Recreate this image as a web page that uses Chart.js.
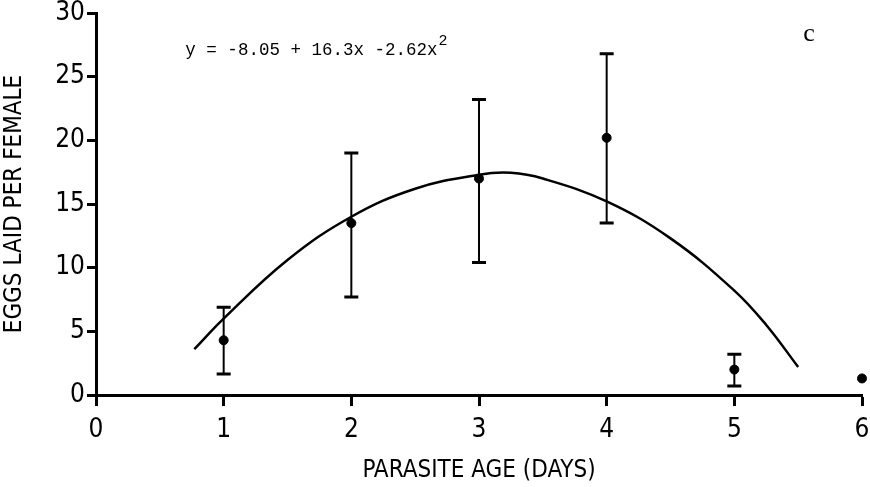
<!DOCTYPE html>
<html><head><meta charset="utf-8">
<script src="https://cdn.jsdelivr.net/npm/chart.js@4"></script>
<style>html,body{margin:0;padding:0;background:#fff}#wrap{width:870px;height:487px;position:relative}</style>
</head><body><div id="wrap"><canvas id="c"></canvas></div>
<script>
// ---- data ----
const parasiteAge = [1, 2, 3, 4, 5, 6];
const eggsMean    = [4.3, 13.5, 17.0, 20.2, 2.0, 1.3];
const errHigh     = [6.9, 19.0, 23.2, 26.8, 3.2, null];
const errLow      = [1.65, 7.7, 10.4, 13.5, 0.7, null];
const curveX      = [0.77, 1, 1.5, 2, 2.5, 3, 3.25, 3.5, 4, 4.5, 5, 5.25, 5.5];
const curveY      = [3.6, 6.0, 10.6, 14.0, 16.2, 17.3, 17.45, 17.0, 15.2, 12.3, 8.2, 5.5, 2.2];
const xTicks      = [0, 1, 2, 3, 4, 5, 6];
const yTicks      = [0, 5, 10, 15, 20, 25, 30];
const equationText = 'y = -8.05 + 16.3x -2.62x';
const equationExp  = '2';
const panelLabel   = 'c';
const xTitle = 'PARASITE AGE (DAYS)';
const yTitle = 'EGGS LAID PER FEMALE';

const FONT = "'Liberation Sans Narrow','DejaVu Sans Condensed','Liberation Sans',sans-serif";

const errorBars = {
  id: 'errorBars',
  afterDatasetsDraw(chart) {
    const ctx = chart.ctx, xs = chart.scales.x, ys = chart.scales.y;
    ctx.save();
    ctx.strokeStyle = '#000';
    parasiteAge.forEach((a, i) => {
      if (errHigh[i] == null || errLow[i] == null) return;
      const px = xs.getPixelForValue(a);
      const top = ys.getPixelForValue(errHigh[i]);
      const bot = ys.getPixelForValue(errLow[i]);
      ctx.lineWidth = 2;
      ctx.beginPath(); ctx.moveTo(px, top); ctx.lineTo(px, bot); ctx.stroke();
      ctx.lineWidth = 3;
      ctx.beginPath();
      ctx.moveTo(px - 7, top); ctx.lineTo(px + 7, top);
      ctx.moveTo(px - 7, bot); ctx.lineTo(px + 7, bot);
      ctx.stroke();
    });
    ctx.restore();
  }
};

const annotations = {
  id: 'annotations',
  afterDraw(chart) {
    const ctx = chart.ctx, xs = chart.scales.x, ys = chart.scales.y;
    ctx.save();
    ctx.fillStyle = '#000';
    ctx.textBaseline = 'alphabetic';
    ctx.textAlign = 'left';
    ctx.font = "17.5px 'Liberation Mono','DejaVu Sans Mono',monospace";
    const ex = xs.getPixelForValue(0.70), ey = ys.getPixelForValue(26.7);
    ctx.fillText(equationText, ex, ey);
    const w = ctx.measureText(equationText).width;
    ctx.font = "15px 'Liberation Mono','DejaVu Sans Mono',monospace";
    ctx.fillText(equationExp, ex + w + 1, ey - 10);
    ctx.font = "26px 'Liberation Serif','DejaVu Serif',serif";
    ctx.fillText(panelLabel, xs.getPixelForValue(5.54), ys.getPixelForValue(27.8));
    ctx.restore();
  }
};

new Chart(document.getElementById('c'), {
  type: 'scatter',
  data: {
    datasets: [
      {
        type: 'line',
        label: 'fit',
        data: curveX.map((x, i) => ({ x, y: curveY[i] })),
        borderColor: '#000',
        borderWidth: 2.5,
        pointRadius: 0,
        fill: false,
        tension: 0.4
      },
      {
        label: 'mean',
        data: parasiteAge.map((x, i) => ({ x, y: eggsMean[i] })),
        backgroundColor: '#000',
        borderColor: '#000',
        pointRadius: 4.5,
        pointHoverRadius: 4.5,
        clip: false
      }
    ]
  },
  options: {
    responsive: true,
    maintainAspectRatio: false,
    animation: false,
    devicePixelRatio: 1,
    layout: { padding: { top: 13, right: 8, left: 0, bottom: 0 } },
    plugins: { legend: { display: false }, tooltip: { enabled: false } },
    scales: {
      x: {
        type: 'linear', min: 0, max: 6,
        afterBuildTicks: s => { s.ticks = xTicks.map(v => ({ value: v })); },
        afterFit: s => { s.height = 92; s.paddingLeft = 0; s.paddingRight = 0; },
        grid: { drawOnChartArea: false, drawTicks: true, tickLength: 11, tickWidth: 3, tickColor: '#000' },
        border: { display: true, color: '#000', width: 3 },
        ticks: { color: '#000', font: { size: 26, family: FONT }, padding: 9, maxRotation: 0 },
        title: { display: true, text: xTitle, color: '#000', font: { size: 24, family: FONT }, padding: { top: 2, bottom: 2 } }
      },
      y: {
        type: 'linear', min: 0, max: 30,
        afterBuildTicks: s => { s.ticks = yTicks.map(v => ({ value: v })); },
        afterFit: s => { s.width = 96; s.paddingTop = 0; s.paddingBottom = 0; },
        grid: { drawOnChartArea: false, drawTicks: true, tickLength: 9, tickWidth: 3, tickColor: '#000' },
        border: { display: true, color: '#000', width: 3 },
        ticks: { color: '#000', font: { size: 26, family: FONT }, padding: 2 },
        title: { display: true, text: yTitle, color: '#000', font: { size: 24, family: FONT }, padding: { top: 0, bottom: 4 } }
      }
    }
  },
  plugins: [errorBars, annotations]
});
</script>
</body></html>
